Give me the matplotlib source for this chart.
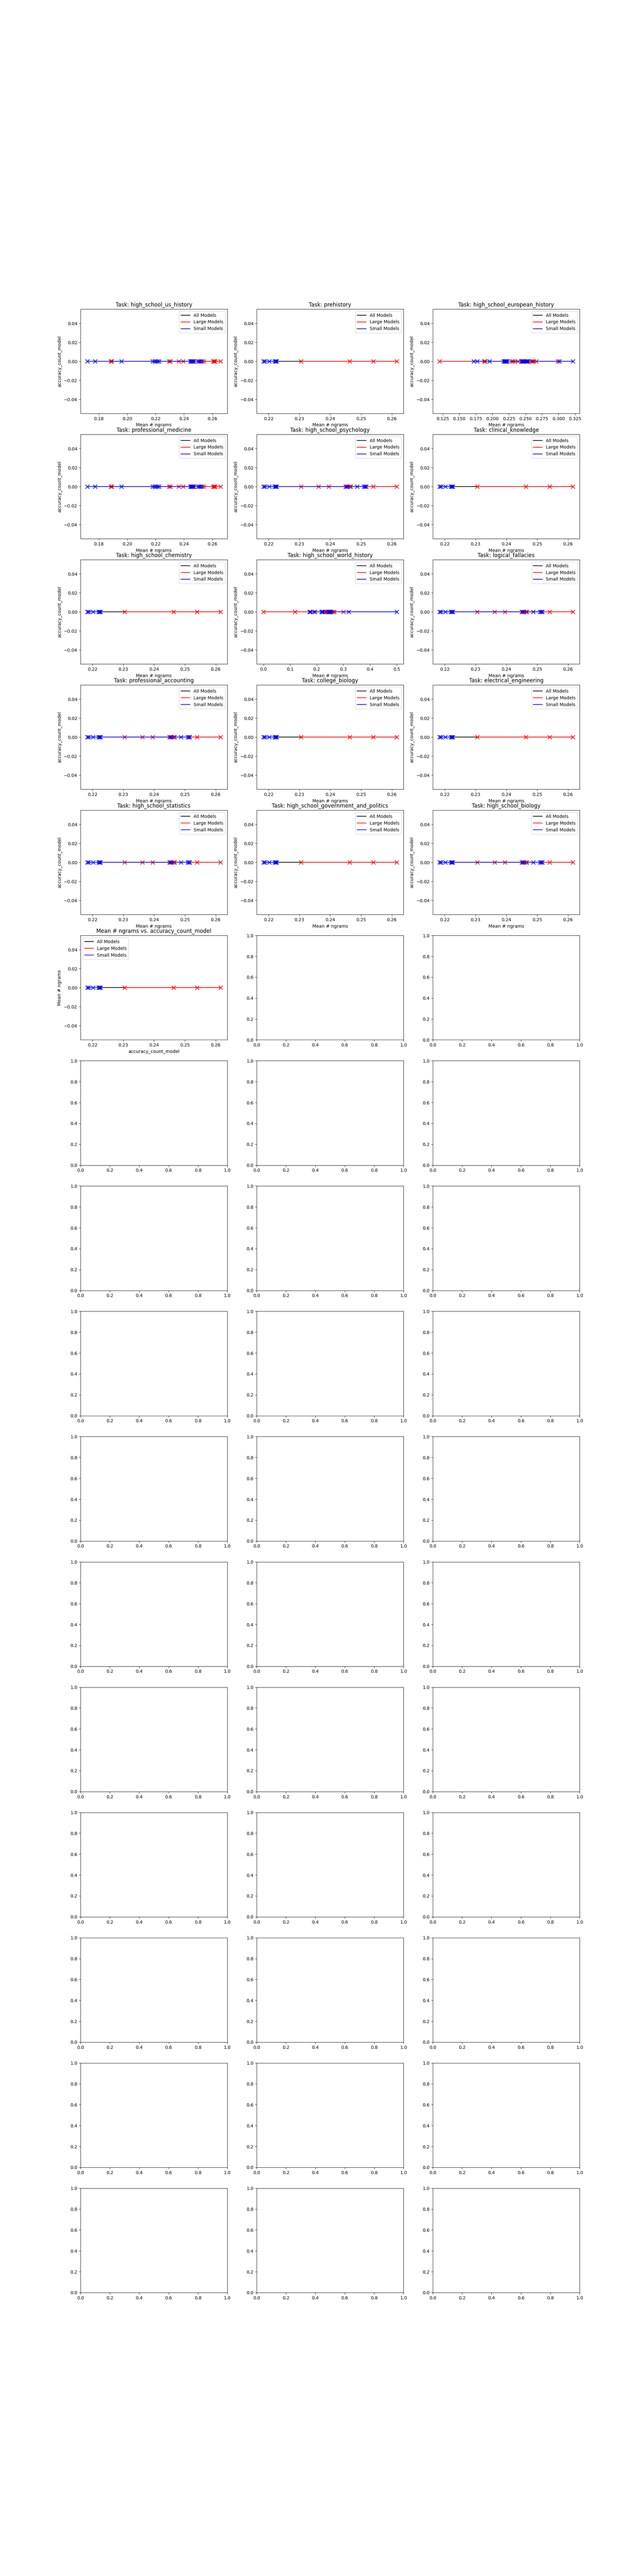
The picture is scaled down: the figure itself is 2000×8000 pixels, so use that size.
# Mean # ngrams vs accuracy_count_model per MMLU task
# every model has accuracy_count_model == 0, so all points sit on y = 0

import numpy as np
import matplotlib.pyplot as plt

# mean # ngrams per model (several tasks share the same values)
small_a = [0.1718, 0.1772, 0.1958, 0.2180, 0.2192, 0.2201, 0.2213, 0.2225,
           0.2444, 0.2451, 0.2458, 0.2468, 0.2498, 0.2508, 0.2517, 0.2525]
large_a = [0.1885, 0.1890, 0.2295, 0.2303, 0.2362, 0.2395, 0.2445, 0.2455,
           0.2463, 0.2470, 0.2540, 0.2605, 0.2612, 0.2620, 0.2658]

small_b = [0.2183, 0.2187, 0.2202, 0.2220, 0.2223, 0.2226]
large_b = [0.2305, 0.2463, 0.2540, 0.2616]

small_c = [0.2183, 0.2187, 0.2202, 0.2220, 0.2223, 0.2226,
           0.2453, 0.2457, 0.2487, 0.2509, 0.2513, 0.2516]
large_c = [0.2305, 0.2362, 0.2395, 0.2450, 0.2463, 0.2466, 0.2540, 0.2616]

small_eu = [0.1720, 0.1772, 0.1958, 0.2170, 0.2185, 0.2195, 0.2205, 0.2215, 0.2225,
            0.2440, 0.2452, 0.2460, 0.2470, 0.2498, 0.2510, 0.2520, 0.2530, 0.3010, 0.3218]
large_eu = [0.1201, 0.1875, 0.1890, 0.2290, 0.2310, 0.2340, 0.2385, 0.2445, 0.2455,
            0.2465, 0.2475, 0.2545, 0.2595, 0.2610, 0.2625, 0.2660, 0.2986]

small_wh = [0.1730, 0.1770, 0.1930, 0.2170, 0.2190, 0.2205, 0.2215, 0.2225,
            0.2440, 0.2455, 0.2470, 0.2500, 0.2515, 0.2530, 0.3200, 0.5000]
large_wh = [0.0000, 0.1188, 0.1890, 0.2290, 0.2310, 0.2360, 0.2395, 0.2450,
            0.2465, 0.2545, 0.2610, 0.2660, 0.2990]

tasks = ['high_school_us_history', 'prehistory', 'high_school_european_history',
         'professional_medicine', 'high_school_psychology', 'clinical_knowledge',
         'high_school_chemistry', 'high_school_world_history', 'logical_fallacies',
         'professional_accounting', 'college_biology', 'electrical_engineering',
         'high_school_statistics', 'high_school_government_and_politics', 'high_school_biology']
task_group = ['a', 'b', 'eu', 'a', 'c', 'b', 'b', 'wh', 'c', 'c', 'b', 'b', 'c', 'b', 'c']

groups = {
    'a': (small_a, large_a),
    'b': (small_b, large_b),
    'c': (small_c, large_c),
    'eu': (small_eu, large_eu),
    'wh': (small_wh, large_wh),
}


def plot_models(ax, small, large):
    sx = np.sort(small)
    lx = np.sort(large)
    ax_all = np.sort(np.concatenate([sx, lx]))
    ax.plot(ax_all, np.zeros(len(ax_all)), color='black', label='All Models')
    ax.plot(lx, np.zeros(len(lx)), color='red', label='Large Models')
    ax.plot(sx, np.zeros(len(sx)), color='blue', label='Small Models')
    ax.scatter(lx, np.zeros(len(lx)), marker='x', color='red', s=80)
    ax.scatter(sx, np.zeros(len(sx)), marker='x', color='blue', s=80)


fig, axes = plt.subplots(16, 3, figsize=(20, 80))
axes = axes.flatten()

for i, task in enumerate(tasks):
    ax = axes[i]
    small, large = groups[task_group[i]]
    plot_models(ax, small, large)
    ax.set_title(f'Task: {task}')
    ax.set_xlabel('Mean # ngrams')
    ax.set_ylabel('accuracy_count_model')
    ax.legend(loc='upper right')

# overall panel
ax = axes[len(tasks)]
plot_models(ax, small_b, large_b)
ax.set_title('Mean # ngrams vs. accuracy_count_model')
ax.set_xlabel('accuracy_count_model')
ax.set_ylabel('Mean # ngrams')
ax.legend(loc='upper left')

fig.savefig('out.png', dpi=100)
